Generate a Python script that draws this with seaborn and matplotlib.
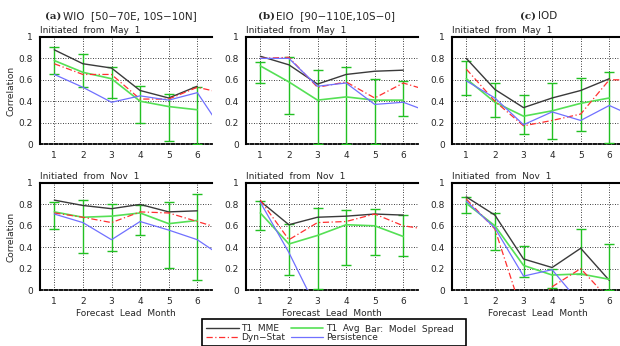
import matplotlib
matplotlib.use("Agg")
import numpy as np
import pandas as pd
import matplotlib.pyplot as plt
from matplotlib.lines import Line2D
from matplotlib.patches import Rectangle
import seaborn as sns

# lead months (7th point only partly visible, clipped at the right edge)
leads = [1, 2, 3, 4, 5, 6]
leads7 = [1, 2, 3, 4, 5, 6, 7]

# ---- (a) WIO, May 1
a_may_mme = [0.88, 0.75, 0.71, 0.50, 0.43, 0.54]
a_may_avg = [0.78, 0.67, 0.61, 0.40, 0.35, 0.32]
a_may_lo = [0.65, 0.53, 0.43, 0.20, 0.03, 0.00]
a_may_hi = [0.91, 0.84, 0.72, 0.54, 0.47, 0.53]
a_may_dyn = [0.75, 0.65, 0.65, 0.42, 0.42, 0.53, 0.47]
a_may_per = [0.65, 0.53, 0.39, 0.45, 0.41, 0.48, 0.08]
# ---- (b) EIO, May 1
b_may_mme = [0.82, 0.74, 0.56, 0.65, 0.68, 0.69]
b_may_avg = [0.73, 0.58, 0.41, 0.44, 0.41, 0.41]
b_may_lo = [0.57, 0.28, 0.00, 0.00, 0.00, 0.26]
b_may_hi = [0.77, 0.81, 0.69, 0.72, 0.61, 0.59]
b_may_dyn = [0.80, 0.81, 0.53, 0.58, 0.43, 0.57, 0.49]
b_may_per = [0.80, 0.80, 0.54, 0.57, 0.37, 0.39, 0.29]
# ---- (c) IOD, May 1
c_may_mme = [0.80, 0.51, 0.34, 0.43, 0.50, 0.61]
c_may_avg = [0.61, 0.39, 0.26, 0.31, 0.38, 0.43]
c_may_lo = [0.46, 0.25, 0.09, 0.05, 0.12, 0.01]
c_may_hi = [0.78, 0.57, 0.46, 0.57, 0.62, 0.67]
c_may_dyn = [0.70, 0.40, 0.17, 0.22, 0.28, 0.60, 0.60]
c_may_per = [0.59, 0.43, 0.18, 0.30, 0.22, 0.36, 0.24]
# ---- (a) WIO, Nov 1
a_nov_mme = [0.84, 0.79, 0.76, 0.80, 0.73, 0.74]
a_nov_avg = [0.73, 0.68, 0.69, 0.72, 0.62, 0.65]
a_nov_lo = [0.57, 0.35, 0.36, 0.51, 0.21, 0.09]
a_nov_hi = [0.82, 0.84, 0.80, 0.79, 0.82, 0.90]
a_nov_dyn = [0.72, 0.68, 0.63, 0.73, 0.72, 0.64, 0.56]
a_nov_per = [0.71, 0.63, 0.47, 0.64, 0.56, 0.47, 0.29]
# ---- (b) EIO, Nov 1
b_nov_mme = [0.83, 0.61, 0.68, 0.69, 0.71, 0.70]
b_nov_avg = [0.72, 0.43, 0.51, 0.61, 0.60, 0.50]
b_nov_lo = [0.56, 0.14, 0.01, 0.23, 0.33, 0.32]
b_nov_hi = [0.83, 0.62, 0.77, 0.75, 0.76, 0.70]
b_nov_dyn = [0.84, 0.47, 0.63, 0.64, 0.71, 0.60, 0.56]
b_nov_per = [0.82, 0.35, -0.19, -0.40, -0.50, -0.60, -0.60]
# ---- (c) IOD, Nov 1
c_nov_mme = [0.87, 0.70, 0.29, 0.21, 0.39, 0.09]
c_nov_avg = [0.81, 0.60, 0.23, 0.14, 0.15, 0.10]
c_nov_lo = [0.72, 0.37, 0.12, 0.02, 0.15, 0.00]
c_nov_hi = [0.87, 0.72, 0.41, 0.20, 0.57, 0.43]
c_nov_dyn = [0.85, 0.57, -0.25, 0.03, 0.20, -0.09, -0.30]
c_nov_per = [0.83, 0.58, 0.13, 0.19, -0.13, -0.30, -0.40]

panels = [
    (a_may_mme, a_may_avg, a_may_lo, a_may_hi, a_may_dyn, a_may_per),
    (b_may_mme, b_may_avg, b_may_lo, b_may_hi, b_may_dyn, b_may_per),
    (c_may_mme, c_may_avg, c_may_lo, c_may_hi, c_may_dyn, c_may_per),
    (a_nov_mme, a_nov_avg, a_nov_lo, a_nov_hi, a_nov_dyn, a_nov_per),
    (b_nov_mme, b_nov_avg, b_nov_lo, b_nov_hi, b_nov_dyn, b_nov_per),
    (c_nov_mme, c_nov_avg, c_nov_lo, c_nov_hi, c_nov_dyn, c_nov_per),
]
init_labels = ["Initiated from May 1"] * 3 + ["Initiated from Nov 1"] * 3
tags = ["(a)", "(b)", "(c)"]
regions = ["WIO  [50\u221270E, 10S\u221210N]", "EIO  [90\u2212110E,10S\u22120]", "IOD"]

C_MME = "#3a3a3a"
C_AVG = "#55e055"
C_BAR = "#22c022"
C_DYN = "#ff3030"
C_PER = "#7070ff"

sns.set_style("white")
plt.rcParams["font.family"] = ["DejaVu Sans"]

W, H = 620, 346
fig = plt.figure(figsize=(W / 100, H / 100), dpi=100)

lefts = [40, 246, 452]
tops = [37, 183]
aw, ah = 171.6, 107

for i, (mme, avg, lo, hi, dyn, per) in enumerate(panels):
    row, col = divmod(i, 3)
    ax = fig.add_axes([lefts[col] / W, 1 - (tops[row] + ah) / H, aw / W, ah / H])
    ax.grid(True, color="black", linestyle=(0, (1, 2)), linewidth=0.6)
    err = np.array([np.array(avg) - np.array(lo), np.array(hi) - np.array(avg)])
    ax.errorbar(leads, avg, yerr=err, fmt="none", ecolor=C_BAR, elinewidth=1.0,
                capsize=3.5, capthick=1.0, zorder=3)
    sns.lineplot(x=leads, y=mme, ax=ax, color=C_MME, lw=1.0, zorder=4)
    sns.lineplot(x=leads, y=avg, ax=ax, color=C_AVG, lw=1.2, zorder=4)
    sns.lineplot(x=leads7, y=dyn, ax=ax, color=C_DYN, lw=0.9, zorder=4,
                 linestyle=(0, (5, 2, 1, 2)))
    sns.lineplot(x=leads7, y=per, ax=ax, color=C_PER, lw=0.9, zorder=4)
    ax.set_xlim(0.5, 6.5)
    ax.set_ylim(0, 1)
    ax.set_xticks(leads)
    ax.set_yticks([0, 0.2, 0.4, 0.6, 0.8, 1])
    ax.set_yticklabels(["0", "0.2", "0.4", "0.6", "0.8", "1"])
    ax.tick_params(axis="both", labelsize=6.5, length=3, width=1, direction="out",
                   pad=2, color="black")
    for s in ["left", "top"]:
        ax.spines[s].set_linewidth(1.5)
        ax.spines[s].set_color("black")
    ax.spines["bottom"].set_linewidth(1.3)
    ax.spines["bottom"].set_linestyle((0, (1.5, 1.2)))
    ax.spines["bottom"].set_color("black")
    ax.spines["right"].set_visible(False)
    ax.set_xlabel("")
    ax.set_ylabel("")
    if col == 0:
        ax.set_ylabel("Correlation", fontsize=6.5, labelpad=2)
    if row == 1:
        ax.set_xlabel("Forecast  Lead  Month", fontsize=6.5, labelpad=2)
    ax.text(0.0, 1.015, init_labels[i].replace(" ", "  "), transform=ax.transAxes,
            fontsize=6.5, ha="left", va="bottom")

# panel titles
title_x = [45, 258, 520]
for col in range(3):
    t = fig.text(title_x[col] / W, 1 - 16 / H, tags[col], fontsize=7.5,
                 fontweight="bold", family="DejaVu Serif", va="center", ha="left")
    fig.text((title_x[col] + 18) / W, 1 - 16 / H, regions[col], fontsize=7.5,
             va="center", ha="left")

# legend box
fig.patches.append(Rectangle((202 / W, 0), (466 - 202) / W, (H - 319) / H,
                             transform=fig.transFigure, fill=False,
                             edgecolor="black", lw=1.2))
handles = [Line2D([], [], color=C_MME, lw=1.0),
           Line2D([], [], color=C_DYN, lw=0.9, linestyle=(0, (5, 2, 1, 2))),
           Line2D([], [], color=C_AVG, lw=1.2),
           Line2D([], [], color=C_PER, lw=0.9)]
labels = ["T1  MME", "Dyn\u2212Stat", "T1  Avg", "Persistence"]
fig.legend(handles, labels, ncol=2, loc="upper left",
           bbox_to_anchor=(206 / W, 1 - 324 / H), frameon=False, fontsize=6.5,
           handlelength=3.6, handletextpad=0.3, columnspacing=0.6,
           labelspacing=0.05, borderpad=0, borderaxespad=0)
fig.text(365 / W, 1 - 330 / H, "Bar:  Model  Spread", fontsize=6.5,
         va="center", ha="left")

fig.savefig("out.png", dpi=100)
